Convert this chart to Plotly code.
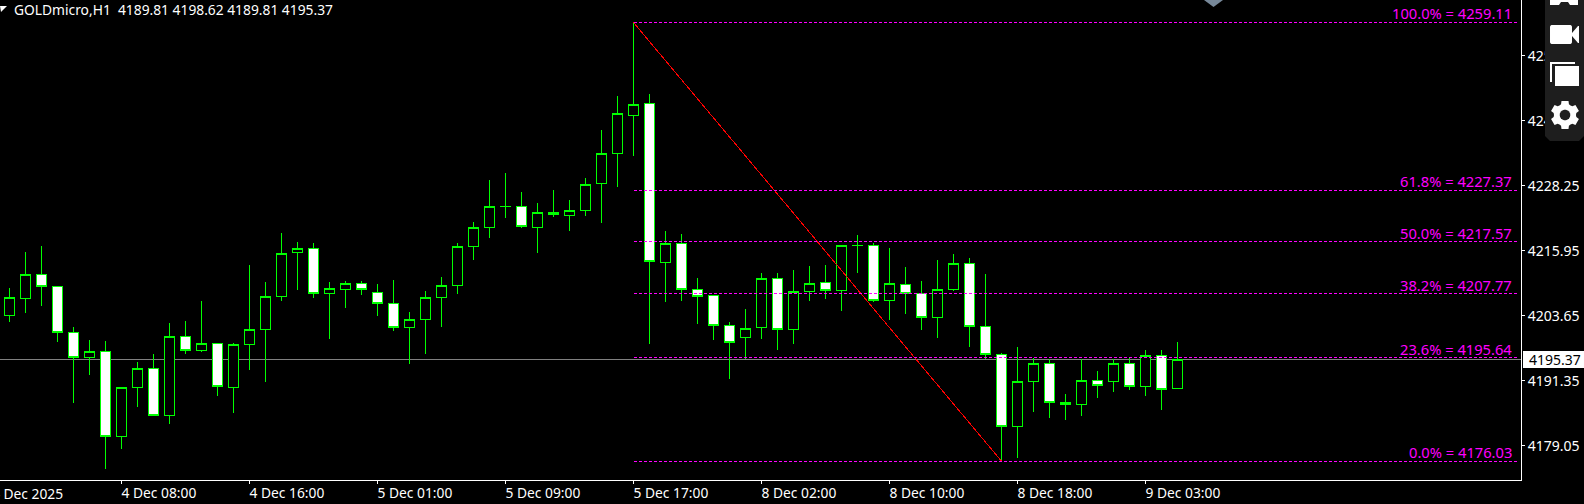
import math
import plotly.graph_objects as go

# ---- data (prices) ----
opens = [4203.66,4206.88,4211.42,4209.15,4200.44,4195.70,4196.84,4180.74,4190.02,4193.62,
         4184.72,4199.68,4197.03,4198.35,4190.02,4198.16,4201.00,4207.25,4215.59,4216.34,
         4207.82,4208.58,4209.72,4208.01,4205.93,4201.38,4202.90,4207.06,4209.34,4216.72,
         4220.32,4224.30,4224.30,4220.32,4223.16,4222.59,4223.54,4228.66,4234.34,4241.53,
         4243.81,4213.69,4217.29,4208.58,4207.44,4201.76,4199.49,4201.38,4210.66,4201.00,
         4208.20,4209.91,4208.39,4216.91,4216.91,4206.50,4209.53,4207.82,4203.28,4208.58,
         4213.50,4201.57,4196.27,4182.63,4191.16,4194.56,4187.18,4186.80,4191.34,4191.16,
         4194.56,4190.21,4196.08,4189.81]
highs = [4208.88,4215.59,4216.78,4209.15,4201.38,4198.98,4198.79,4190.02,4194.75,4196.33,
         4202.14,4202.58,4206.36,4198.35,4198.35,4213.18,4209.96,4219.19,4217.48,4217.29,
         4209.91,4210.09,4210.09,4209.58,4210.28,4204.28,4208.20,4210.85,4217.29,4221.27,
         4229.28,4230.61,4227.01,4224.87,4227.39,4225.49,4229.66,4238.75,4245.19,4259.11,
         4245.57,4219.62,4219.05,4210.66,4207.44,4202.33,4204.79,4211.61,4211.61,4212.23,
         4212.99,4213.18,4216.91,4218.86,4217.41,4216.40,4212.80,4210.15,4214.13,4215.26,
         4214.51,4211.48,4196.52,4197.65,4195.51,4195.32,4188.69,4195.32,4193.05,4195.32,
         4195.51,4197.08,4197.08,4198.62]
lows = [4202.44,4204.15,4205.47,4198.66,4187.10,4192.41,4174.60,4178.39,4186.35,4184.72,
        4183.13,4196.38,4196.76,4188.43,4185.21,4193.35,4191.08,4206.42,4208.50,4206.99,
        4199.22,4205.10,4207.56,4203.58,4200.74,4194.49,4196.38,4201.50,4207.75,4214.19,
        4218.35,4222.14,4220.25,4215.51,4222.33,4219.68,4222.52,4221.19,4228.01,4233.88,
        4198.28,4206.23,4206.42,4202.06,4199.03,4191.65,4195.44,4199.22,4197.14,4198.28,
        4206.42,4206.80,4204.53,4211.72,4206.12,4202.82,4203.96,4200.93,4199.41,4208.31,
        4197.71,4195.38,4176.03,4176.69,4185.40,4184.26,4183.88,4184.64,4188.05,4189.19,
        4189.56,4188.43,4185.78,4189.81]
closes = [4207.06,4211.42,4209.15,4200.44,4195.70,4196.84,4180.74,4190.02,4193.62,4184.72,
          4199.68,4197.03,4198.35,4190.21,4198.16,4201.00,4207.25,4215.40,4216.34,4207.82,
          4208.77,4209.72,4208.58,4205.93,4201.38,4202.90,4207.06,4209.34,4216.72,4220.32,
          4224.30,4224.30,4220.51,4223.16,4222.78,4223.54,4228.47,4234.34,4241.91,4243.62,
          4213.88,4217.29,4208.58,4207.25,4201.76,4198.54,4201.19,4210.66,4201.00,4208.20,
          4209.72,4208.39,4216.91,4216.91,4206.50,4209.72,4207.82,4203.28,4208.58,4213.50,
          4201.57,4196.27,4182.63,4191.16,4194.56,4187.18,4186.80,4191.34,4190.40,4194.56,
          4190.21,4196.08,4189.64,4195.37]

x_tick_idx = [7, 15, 23, 31, 39, 47, 55, 63, 71]
x_tick_txt = ["4 Dec 08:00", "4 Dec 16:00", "5 Dec 01:00", "5 Dec 09:00", "5 Dec 17:00",
              "8 Dec 02:00", "8 Dec 10:00", "8 Dec 18:00", "9 Dec 03:00"]
y_ticks = [4179.05, 4191.35, 4203.65, 4215.95, 4228.25, 4240.55, 4252.85]
fib_pct = ["100.0%", "61.8%", "50.0%", "38.2%", "23.6%", "0.0%"]
fib_val = [4259.11, 4227.37, 4217.57, 4207.77, 4195.64, 4176.03]
trend_idx = [39, 62]
trend_val = [4259.11, 4176.03]
fib_idx = [39, 94.3]
last_price = 4195.37
header = "GOLDmicro,H1  4189.81 4198.62 4189.81 4195.37"

FONT = "Noto Sans"
W, H = 1584, 504
PW, PH = 1521, 480

fig = go.Figure()
fig.add_trace(go.Candlestick(
    x=list(range(len(opens))), open=opens, high=highs, low=lows, close=closes,
    increasing=dict(line=dict(color="#00ff00", width=1), fillcolor="#000000"),
    decreasing=dict(line=dict(color="#00ff00", width=1), fillcolor="#ffffff"),
    whiskerwidth=0, showlegend=False))

fig.add_trace(go.Scatter(x=trend_idx, y=trend_val, mode="lines",
                         line=dict(color="#ff0000", width=1), showlegend=False))
for v in fib_val:
    fig.add_trace(go.Scatter(x=fib_idx, y=[v, v], mode="lines",
                             line=dict(color="#ff00ff", width=1, dash="3px,2px"),
                             showlegend=False))

shapes = []
shapes.append(dict(type="line", xref="paper", x0=0, x1=1, yref="y", y0=last_price, y1=last_price,
                   line=dict(color="#808080", width=1), layer="below"))


def px(x):
    return x / PW


def py(y):
    return 1 - y / PH


def path(points, close=True):
    s = "M" + " L".join(f"{px(a):.5f},{py(b):.5f}" for a, b in points)
    return s + (" Z" if close else "")


def poly(points, color):
    shapes.append(dict(type="path", xref="paper", yref="paper", path=path(points),
                       fillcolor=color, line=dict(width=0), layer="above"))


def rounded(x0, y0, x1, y1, r, n=5):
    pts = []
    corners = [(x1 - r, y0 + r, -90), (x1 - r, y1 - r, 0), (x0 + r, y1 - r, 90), (x0 + r, y0 + r, 180)]
    for cx, cy, a0 in corners:
        for i in range(n + 1):
            a = math.radians(a0 + 90 * i / n)
            pts.append((cx + r * math.cos(a), cy + r * math.sin(a)))
    return pts


# last-price box
poly([(1523, 351), (1584, 351), (1584, 368), (1523, 368)], "#ffffff")
# toolbar panel overlay
poly([(1545, 0), (1584, 0), (1584, 136), (1579, 141), (1550, 141), (1545, 136)], "#1e1e1e")
# cut-off top icon
poly([(1550, 0), (1578, 0), (1578, 5), (1570, 5), (1568, 2), (1561, 2), (1559, 5), (1550, 5)], "#ffffff")
# camera icon
poly(rounded(1550, 25, 1572, 44, 2), "#ffffff")
poly([(1572, 33), (1578, 26), (1579, 26), (1579, 43), (1578, 43), (1572, 36)], "#ffffff")
# windows icon
poly([(1550, 62), (1575, 62), (1575, 64), (1552, 64), (1552, 82), (1550, 82)], "#ffffff")
poly([(1555, 66), (1579, 66), (1579, 86), (1555, 86)], "#ffffff")
# gear icon
gear = []
for t in range(6):
    a = math.radians(60 * t - 90)
    for da, r in [(-30, 11), (-20, 11.5), (-14, 14.5), (14, 14.5), (20, 11.5)]:
        b = a + math.radians(da)
        gear.append((1565 + r * math.cos(b), 115 + r * math.sin(b)))
poly(gear, "#ffffff")
hole = [(1565 + 5.3 * math.cos(math.radians(a)), 115 + 5.3 * math.sin(math.radians(a))) for a in range(0, 360, 20)]
poly(hole, "#1e1e1e")
# scroll marker and chart-menu triangle
poly([(1204, 0), (1223, 0), (1213.5, 7)], "#778899")
poly([(0, 6), (7, 6), (1, 12)], "#ffffff")

ann = []
for pct, v in zip(fib_pct, fib_val):
    ann.append(dict(xref="paper", x=px(1512), xanchor="right", yref="y", y=v, yanchor="bottom", yshift=-1,
                    text=f"{pct} = {v:.2f}", showarrow=False, font=dict(family=FONT, size=14.7, color="#ff00ff"),
                    borderpad=0, borderwidth=0))
ann.append(dict(xref="paper", x=px(12.5), xanchor="left", yref="paper", y=py(9), yanchor="middle",
                text=header.replace("  ", "&nbsp;&nbsp;"), showarrow=False,
                font=dict(family=FONT, size=13.8, color="#ffffff"), borderpad=0))
ann.append(dict(xref="paper", x=px(1528), xanchor="left", yref="y", y=last_price, yanchor="middle",
                text=f"{last_price:.2f}", showarrow=False, font=dict(family=FONT, size=14, color="#000000"),
                borderpad=0))
ann.append(dict(xref="paper", x=px(-9), xanchor="left", yref="paper", y=py(493), yanchor="middle",
                text="4 Dec 2025", showarrow=False, font=dict(family=FONT, size=13.8, color="#ffffff"),
                borderpad=0))

fig.update_layout(
    width=W, height=H, autosize=False,
    margin=dict(l=0, r=W - PW, t=0, b=H - PH, pad=0),
    paper_bgcolor="#000000", plot_bgcolor="#000000",
    showlegend=False, shapes=shapes, annotations=ann,
    boxgap=0.36, boxgroupgap=0,
    font=dict(family=FONT, size=14, color="#ffffff"),
    xaxis=dict(range=[-9.5 / 16, (PW - 9.5) / 16], rangeslider=dict(visible=False),
               showgrid=False, zeroline=False, showline=True, linecolor="#ffffff", linewidth=1,
               ticks="outside", ticklen=3, tickcolor="#ffffff", tickwidth=1,
               tickmode="array", tickvals=x_tick_idx, ticktext=x_tick_txt,
               ticklabelposition="outside right", tickfont=dict(family=FONT, size=13.8, color="#ffffff"),
               ticklabelshift=-1, fixedrange=True),
    yaxis=dict(range=[4263.37 - 480 * 0.18939, 4263.37], side="right",
               showgrid=False, zeroline=False, showline=True, linecolor="#ffffff", linewidth=1,
               ticks="outside", ticklen=3, tickcolor="#ffffff", tickwidth=1,
               tickmode="array", tickvals=y_ticks, ticktext=[f"{v:.2f}" for v in y_ticks],
               tickfont=dict(family=FONT, size=14, color="#ffffff"),
               ticklabelshift=1, fixedrange=True),
    hovermode=False,
)
crisp = ("document.body.style.margin='0';document.body.style.background='#000';"
         "document.documentElement.style.overflow='hidden';"
         "document.querySelectorAll('.boxes path,.scatterlayer .js-line,.layer-below .shapelayer path')"
         ".forEach(function(p){p.style.shapeRendering='crispEdges';});")
fig.write_html("out.html", config=dict(displayModeBar=False), post_script=crisp)
